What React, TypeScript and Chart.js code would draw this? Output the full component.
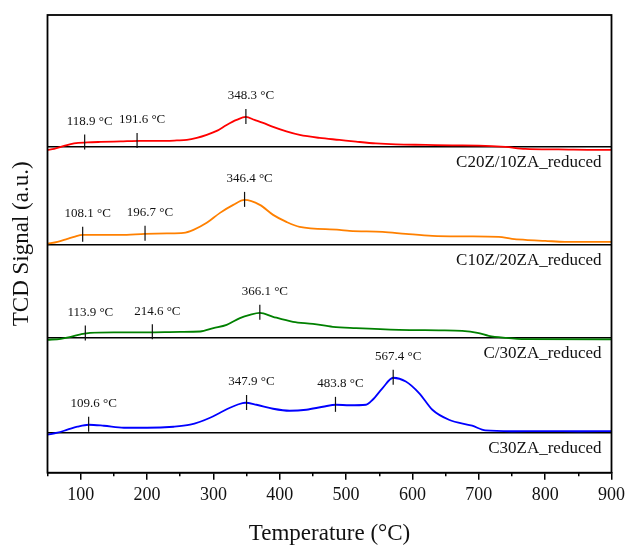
import React, { useEffect, useRef } from 'react';
import { Chart, registerables } from 'chart.js';

Chart.register(...registerables);

// ---- Data (signal heights in a.u., relative to each trace's baseline) ----
const redT = [50, 60, 75, 90, 110, 130, 160, 190, 220, 245, 260, 275, 290, 305, 320, 335, 349, 362, 375, 390, 410, 430, 460, 490, 515, 545, 575, 620, 660, 700, 740, 770, 820, 880, 900];
const redV = [-3, -2, 1, 3.5, 4.5, 5, 5.5, 6, 6, 6.5, 7, 9, 12, 16, 22, 27, 30, 27, 24, 20, 15.5, 12, 9, 7, 5.3, 3.5, 2.5, 2, 1.5, 1.3, 0, -2, -2.5, -3, -3];

const orangeT = [50, 65, 80, 90, 103, 130, 160, 197, 230, 255, 270, 290, 310, 330, 347, 370, 390, 410, 430, 490, 505, 555, 590, 630, 680, 730, 750, 770, 800, 830, 900];
const orangeV = [1, 3, 6, 8, 10, 10, 10, 11, 11.5, 12, 15, 22, 32, 40, 45, 40, 30, 23, 18, 15, 14, 13, 11, 9, 8.5, 8, 6, 5, 4, 3, 3];

const greenT = [50, 70, 85, 100, 114, 150, 200, 250, 280, 300, 320, 340, 355, 370, 390, 420, 450, 480, 515, 580, 640, 675, 700, 715, 740, 770, 900];
const greenV = [-2, -1, 1, 3.5, 5, 5.5, 5.5, 6, 6.3, 9.7, 13, 19.7, 23, 25, 21, 16, 14, 11, 9.7, 8, 7.5, 7, 4.7, 2, 0, -1.3, -1.5];

const blueT = [50, 65, 80, 95, 112, 135, 165, 200, 240, 265, 280, 295, 310, 325, 336, 348, 365, 390, 415, 440, 465, 485, 505, 530, 540, 555, 571, 590, 610, 630, 655, 690, 710, 750, 800, 850, 900];
const blueV = [-2, 0, 3, 6, 8, 7, 5, 5, 6, 8, 11, 15, 20, 25, 28, 30, 28, 24, 22, 23, 26, 28, 27.5, 28, 33, 44.7, 55, 51.3, 39.7, 23, 13, 7, 2.3, 1.5, 1.7, 1.5, 1.7];

// Peak temperatures (°C) printed on each trace
const redPeaks = [118.9, 191.6, 348.3];
const orangePeaks = [108.1, 196.7, 346.4];
const greenPeaks = [113.9, 214.6, 366.1];
const bluePeaks = [109.6, 347.9, 483.8, 567.4];

// Where the peak marks sit on the temperature axis in the figure
const redMarks = [106, 185, 349];
const orangeMarks = [103, 197, 347];
const greenMarks = [107, 208, 370];
const blueMarks = [112, 350, 484, 571];

const sampleNames = ['C20Z/10ZA_reduced', 'C10Z/20ZA_reduced', 'C/30ZA_reduced', 'C30ZA_reduced'];
const baselines = [326, 228, 135, 40];
const colors = ['#ff0000', '#ff8000', '#008000', '#0000ff'];

const xMajorTicks = [100, 200, 300, 400, 500, 600, 700, 800, 900];
const xMinorTicks = [50, 150, 250, 350, 450, 550, 650, 750, 850];
const X_MIN = 50;
const X_MAX = 900;
const Y_MIN = 0;
const Y_MAX = 458;

const SERIF = '"Liberation Serif", "Times New Roman", serif';

const seriesT = [redT, orangeT, greenT, blueT];
const seriesV = [redV, orangeV, greenV, blueV];
const seriesPeaks = [redPeaks, orangePeaks, greenPeaks, bluePeaks];
const seriesMarks = [redMarks, orangeMarks, greenMarks, blueMarks];

function interp(ts: number[], vs: number[], t: number): number {
  for (let i = 0; i < ts.length - 1; i++) {
    if (t >= ts[i] && t <= ts[i + 1]) {
      const f = (t - ts[i]) / (ts[i + 1] - ts[i]);
      return vs[i] + f * (vs[i + 1] - vs[i]);
    }
  }
  return vs[vs.length - 1];
}

const annotationPlugin = {
  id: 'tprAnnotations',
  afterDatasetsDraw(chart: any) {
    const { ctx, chartArea } = chart;
    const x = chart.scales.x;
    const y = chart.scales.y;
    ctx.save();
    ctx.strokeStyle = '#111';
    ctx.fillStyle = '#111';
    ctx.lineWidth = 1.2;
    seriesT.forEach((ts, i) => {
      const vs = seriesV[i];
      const base = baselines[i];
      seriesPeaks[i].forEach((p, k) => {
        const m = seriesMarks[i][k];
        const px = x.getPixelForValue(m);
        const py = y.getPixelForValue(base + interp(ts, vs, m));
        ctx.beginPath();
        ctx.moveTo(px, py - 8);
        ctx.lineTo(px, py + 7);
        ctx.stroke();
        ctx.font = `13px ${SERIF}`;
        ctx.textAlign = 'center';
        ctx.textBaseline = 'middle';
        ctx.fillText(`${p.toFixed(1)} °C`, px + 5, py - 21);
      });
      ctx.font = `17px ${SERIF}`;
      ctx.textAlign = 'right';
      ctx.textBaseline = 'middle';
      ctx.fillText(sampleNames[i], chartArea.right - 10, y.getPixelForValue(base) + 16);
    });
    ctx.strokeStyle = '#000';
    ctx.lineWidth = 1.8;
    ctx.strokeRect(chartArea.left, chartArea.top, chartArea.right - chartArea.left, chartArea.bottom - chartArea.top);
    ctx.restore();
  },
};

export default function App() {
  const canvasRef = useRef<HTMLCanvasElement | null>(null);

  useEffect(() => {
    if (!canvasRef.current) return;
    const datasets = seriesT.map((ts, i) => ({
      label: sampleNames[i],
      data: ts.map((t, k) => ({ x: t, y: baselines[i] + seriesV[i][k] })),
      borderColor: colors[i],
      backgroundColor: colors[i],
      borderWidth: 1.8,
      pointRadius: 0,
      cubicInterpolationMode: 'monotone' as const,
      fill: false,
      xAxisID: 'x',
      yAxisID: 'y',
    }));

    const chart = new Chart(canvasRef.current, {
      type: 'line',
      data: { datasets },
      options: {
        animation: false,
        responsive: false,
        events: [],
        layout: { padding: { top: 15, right: 16.7, left: 0, bottom: 0 } },
        plugins: { legend: { display: false }, tooltip: { enabled: false } },
        scales: {
          x: {
            type: 'linear',
            position: 'bottom',
            weight: 1,
            min: X_MIN,
            max: X_MAX,
            afterBuildTicks: (scale: any) => {
              scale.ticks = xMajorTicks.map((v) => ({ value: v }));
            },
            afterFit: (scale: any) => {
              scale.height = 72.3;
            },
            grid: {
              drawOnChartArea: false,
              drawTicks: true,
              tickLength: 7,
              color: '#000',
              lineWidth: 1.5,
            },
            border: { display: true, color: '#000', width: 1.5 },
            ticks: {
              color: '#111',
              padding: 5,
              maxRotation: 0,
              autoSkip: false,
              font: { family: SERIF, size: 18 },
              callback: (v: any) => String(v),
            },
            title: {
              display: true,
              text: 'Temperature (°C)',
              color: '#111',
              font: { family: SERIF, size: 23, lineHeight: 1 },
              padding: { top: 0, bottom: 0 },
            },
          },
          x2: {
            type: 'linear',
            position: 'bottom',
            weight: 0,
            min: X_MIN,
            max: X_MAX,
            afterBuildTicks: (scale: any) => {
              scale.ticks = xMinorTicks.map((v) => ({ value: v }));
            },
            afterFit: (scale: any) => {
              scale.height = 0;
            },
            grid: {
              drawOnChartArea: false,
              drawTicks: true,
              tickLength: 3.5,
              color: '#000',
              lineWidth: 1.5,
            },
            border: { display: false },
            ticks: { display: false },
          },
          y: {
            type: 'linear',
            position: 'left',
            min: Y_MIN,
            max: Y_MAX,
            afterBuildTicks: (scale: any) => {
              scale.ticks = baselines.map((v) => ({ value: v }));
            },
            afterFit: (scale: any) => {
              scale.width = 47.5;
            },
            grid: {
              drawOnChartArea: true,
              drawTicks: false,
              color: '#000',
              lineWidth: 1.5,
            },
            border: { display: false },
            ticks: { display: false },
            title: {
              display: true,
              text: 'TCD Signal (a.u.)',
              color: '#111',
              font: { family: SERIF, size: 23, lineHeight: 1 },
              padding: { top: 10, bottom: 0 },
            },
          },
        },
      },
      plugins: [annotationPlugin],
    });
    return () => chart.destroy();
  }, []);

  return (
    <div style={{ position: 'fixed', left: 0, top: 0, width: 630, height: 545, background: '#fff' }}>
      <canvas ref={canvasRef} width={630} height={545} style={{ display: 'block' }} />
    </div>
  );
}
